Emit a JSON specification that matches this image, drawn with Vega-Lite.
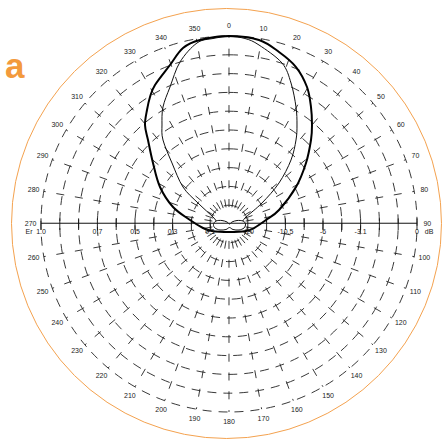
{
  "$schema": "https://vega.github.io/schema/vega-lite/v6.json",
  "autosize": "none",
  "width": 447,
  "height": 442,
  "padding": 0,
  "background": "white",
  "config": {"view": {"stroke": null}},
  "datasets": {
    "orange": [{"r": 1.1436, "cx": -0.0133, "cy": 0.0027}],
    "circles": [{"r": 0.1, "cx": 0, "cy": 0}, {"r": 0.2, "cx": 0, "cy": 0}, {"r": 0.3, "cx": 0, "cy": 0}, {"r": 0.4, "cx": 0, "cy": 0}, {"r": 0.5, "cx": 0, "cy": 0}, {"r": 0.6, "cx": 0, "cy": 0}, {"r": 0.7, "cx": 0, "cy": 0}, {"r": 0.8, "cx": 0, "cy": 0}, {"r": 0.9, "cx": 0, "cy": 0}, {"r": 1.0, "cx": 0, "cy": 0}],
    "radials": [
      {"a": 0, "x": 0, "y": 0.09, "x2": 0, "y2": 1},
      {"a": 10, "x": 0.0156, "y": 0.0886, "x2": 0.1736, "y2": 0.9848},
      {"a": 20, "x": 0.0308, "y": 0.0846, "x2": 0.342, "y2": 0.9397},
      {"a": 30, "x": 0.045, "y": 0.0779, "x2": 0.5, "y2": 0.866},
      {"a": 40, "x": 0.0579, "y": 0.0689, "x2": 0.6428, "y2": 0.766},
      {"a": 50, "x": 0.0689, "y": 0.0579, "x2": 0.766, "y2": 0.6428},
      {"a": 60, "x": 0.0779, "y": 0.045, "x2": 0.866, "y2": 0.5},
      {"a": 70, "x": 0.0846, "y": 0.0308, "x2": 0.9397, "y2": 0.342},
      {"a": 80, "x": 0.0886, "y": 0.0156, "x2": 0.9848, "y2": 0.1736},
      {"a": 100, "x": 0.0886, "y": -0.0156, "x2": 0.9848, "y2": -0.1736},
      {"a": 110, "x": 0.0846, "y": -0.0308, "x2": 0.9397, "y2": -0.342},
      {"a": 120, "x": 0.0779, "y": -0.045, "x2": 0.866, "y2": -0.5},
      {"a": 130, "x": 0.0689, "y": -0.0579, "x2": 0.766, "y2": -0.6428},
      {"a": 140, "x": 0.0579, "y": -0.0689, "x2": 0.6428, "y2": -0.766},
      {"a": 150, "x": 0.045, "y": -0.0779, "x2": 0.5, "y2": -0.866},
      {"a": 160, "x": 0.0308, "y": -0.0846, "x2": 0.342, "y2": -0.9397},
      {"a": 170, "x": 0.0156, "y": -0.0886, "x2": 0.1736, "y2": -0.9848},
      {"a": 180, "x": 0, "y": -0.09, "x2": 0, "y2": -1},
      {"a": 190, "x": -0.0156, "y": -0.0886, "x2": -0.1736, "y2": -0.9848},
      {"a": 200, "x": -0.0308, "y": -0.0846, "x2": -0.342, "y2": -0.9397},
      {"a": 210, "x": -0.045, "y": -0.0779, "x2": -0.5, "y2": -0.866},
      {"a": 220, "x": -0.0579, "y": -0.0689, "x2": -0.6428, "y2": -0.766},
      {"a": 230, "x": -0.0689, "y": -0.0579, "x2": -0.766, "y2": -0.6428},
      {"a": 240, "x": -0.0779, "y": -0.045, "x2": -0.866, "y2": -0.5},
      {"a": 250, "x": -0.0846, "y": -0.0308, "x2": -0.9397, "y2": -0.342},
      {"a": 260, "x": -0.0886, "y": -0.0156, "x2": -0.9848, "y2": -0.1736},
      {"a": 280, "x": -0.0886, "y": 0.0156, "x2": -0.9848, "y2": 0.1736},
      {"a": 290, "x": -0.0846, "y": 0.0308, "x2": -0.9397, "y2": 0.342},
      {"a": 300, "x": -0.0779, "y": 0.045, "x2": -0.866, "y2": 0.5},
      {"a": 310, "x": -0.0689, "y": 0.0579, "x2": -0.766, "y2": 0.6428},
      {"a": 320, "x": -0.0579, "y": 0.0689, "x2": -0.6428, "y2": 0.766},
      {"a": 330, "x": -0.045, "y": 0.0779, "x2": -0.5, "y2": 0.866},
      {"a": 340, "x": -0.0308, "y": 0.0846, "x2": -0.342, "y2": 0.9397},
      {"a": 350, "x": -0.0156, "y": 0.0886, "x2": -0.1736, "y2": 0.9848}
    ],
    "anglelabels": [
      {"t": "0", "x": 0, "y": 1.055}, {"t": "10", "x": 0.1832, "y": 1.039}, {"t": "20", "x": 0.3608, "y": 0.9914},
      {"t": "30", "x": 0.5275, "y": 0.9137}, {"t": "40", "x": 0.6781, "y": 0.8082}, {"t": "50", "x": 0.8082, "y": 0.6781},
      {"t": "60", "x": 0.9137, "y": 0.5275}, {"t": "70", "x": 0.9914, "y": 0.3608}, {"t": "80", "x": 1.039, "y": 0.1832},
      {"t": "90", "x": 1.055, "y": 0}, {"t": "100", "x": 1.039, "y": -0.1832}, {"t": "110", "x": 0.9914, "y": -0.3608},
      {"t": "120", "x": 0.9137, "y": -0.5275}, {"t": "130", "x": 0.8082, "y": -0.6781}, {"t": "140", "x": 0.6781, "y": -0.8082},
      {"t": "150", "x": 0.5275, "y": -0.9137}, {"t": "160", "x": 0.3608, "y": -0.9914}, {"t": "170", "x": 0.1832, "y": -1.039},
      {"t": "180", "x": 0, "y": -1.055}, {"t": "190", "x": -0.1832, "y": -1.039}, {"t": "200", "x": -0.3608, "y": -0.9914},
      {"t": "210", "x": -0.5275, "y": -0.9137}, {"t": "220", "x": -0.6781, "y": -0.8082}, {"t": "230", "x": -0.8082, "y": -0.6781},
      {"t": "240", "x": -0.9137, "y": -0.5275}, {"t": "250", "x": -0.9914, "y": -0.3608}, {"t": "260", "x": -1.039, "y": -0.1832},
      {"t": "270", "x": -1.055, "y": 0}, {"t": "280", "x": -1.039, "y": 0.1832}, {"t": "290", "x": -0.9914, "y": 0.3608},
      {"t": "300", "x": -0.9137, "y": 0.5275}, {"t": "310", "x": -0.8082, "y": 0.6781}, {"t": "320", "x": -0.6781, "y": 0.8082},
      {"t": "330", "x": -0.5275, "y": 0.9137}, {"t": "340", "x": -0.3608, "y": 0.9914}, {"t": "350", "x": -0.1832, "y": 1.039}
    ],
    "axislabels": [
      {"t": "Er", "x": -1.064, "y": -0.0426}, {"t": "1.0", "x": -1.0, "y": -0.0426}, {"t": "0.7", "x": -0.7, "y": -0.0426}, {"t": "0.5", "x": -0.5, "y": -0.0426},
      {"t": "0.3", "x": -0.3, "y": -0.0426}, {"t": "0.1", "x": -0.1, "y": -0.0426}, {"t": "-20", "x": 0.106, "y": -0.0426}, {"t": "-10.5", "x": 0.3, "y": -0.0426},
      {"t": "-6", "x": 0.5, "y": -0.0426}, {"t": "-3.1", "x": 0.7, "y": -0.0426}, {"t": "0", "x": 1.0, "y": -0.0426}, {"t": "dB", "x": 1.064, "y": -0.0426}
    ],
    "ticks": [
      {"x": -1.0, "y": -0.032, "y2": 0.03}, {"x": -0.9, "y": -0.032, "y2": 0.03}, {"x": -0.8, "y": -0.032, "y2": 0.03}, {"x": -0.7, "y": -0.032, "y2": 0.03}, {"x": -0.6, "y": -0.032, "y2": 0.03},
      {"x": -0.5, "y": -0.032, "y2": 0.03}, {"x": -0.4, "y": -0.032, "y2": 0.03}, {"x": -0.3, "y": -0.032, "y2": 0.03}, {"x": -0.2, "y": -0.032, "y2": 0.03}, {"x": -0.1, "y": -0.032, "y2": 0.03},
      {"x": 0.1, "y": -0.032, "y2": 0.03}, {"x": 0.2, "y": -0.032, "y2": 0.03}, {"x": 0.3, "y": -0.032, "y2": 0.03}, {"x": 0.4, "y": -0.032, "y2": 0.03}, {"x": 0.5, "y": -0.032, "y2": 0.03},
      {"x": 0.6, "y": -0.032, "y2": 0.03}, {"x": 0.7, "y": -0.032, "y2": 0.03}, {"x": 0.8, "y": -0.032, "y2": 0.03}, {"x": 0.9, "y": -0.032, "y2": 0.03}, {"x": 1.0, "y": -0.032, "y2": 0.03}
    ],
    "thick": [
      {"i": 1, "x": 0, "y": 1.0}, {"i": 2, "x": 0.1596, "y": 0.9787}, {"i": 3, "x": 0.266, "y": 0.9149},
      {"i": 4, "x": 0.3564, "y": 0.8351}, {"i": 5, "x": 0.4149, "y": 0.7287}, {"i": 6, "x": 0.4362, "y": 0.6223},
      {"i": 7, "x": 0.4415, "y": 0.5266}, {"i": 8, "x": 0.4362, "y": 0.4468}, {"i": 9, "x": 0.4096, "y": 0.3245},
      {"i": 10, "x": 0.3564, "y": 0.1968}, {"i": 11, "x": 0.266, "y": 0.0745}, {"i": 12, "x": 0.1968, "y": 0.0213},
      {"i": 13, "x": 0.133, "y": -0.0213}, {"i": 14, "x": 0.0904, "y": -0.0372}, {"i": 15, "x": 0, "y": -0.0426},
      {"i": 16, "x": -0.0904, "y": -0.0372}, {"i": 17, "x": -0.1383, "y": -0.0213}, {"i": 18, "x": -0.2074, "y": 0.0213},
      {"i": 19, "x": -0.2979, "y": 0.0904}, {"i": 20, "x": -0.367, "y": 0.1968}, {"i": 21, "x": -0.4043, "y": 0.3245},
      {"i": 22, "x": -0.4309, "y": 0.4468}, {"i": 23, "x": -0.4468, "y": 0.5266}, {"i": 24, "x": -0.4362, "y": 0.6064},
      {"i": 25, "x": -0.4202, "y": 0.6755}, {"i": 26, "x": -0.3936, "y": 0.7394}, {"i": 27, "x": -0.3138, "y": 0.8457},
      {"i": 28, "x": -0.2447, "y": 0.9362}, {"i": 29, "x": -0.1543, "y": 0.9787}
    ],
    "thin": [
      {"i": 1, "x": -0.0691, "y": 0.016}, {"i": 2, "x": -0.0851, "y": 0.0372}, {"i": 3, "x": -0.1649, "y": 0.1117},
      {"i": 4, "x": -0.2447, "y": 0.1968}, {"i": 5, "x": -0.3032, "y": 0.3245}, {"i": 6, "x": -0.3511, "y": 0.4468},
      {"i": 7, "x": -0.3564, "y": 0.5266}, {"i": 8, "x": -0.3511, "y": 0.6223}, {"i": 9, "x": -0.3138, "y": 0.7287},
      {"i": 10, "x": -0.2606, "y": 0.8617}, {"i": 11, "x": -0.1702, "y": 0.9628}, {"i": 12, "x": -0.0851, "y": 0.9867},
      {"i": 13, "x": 0, "y": 0.997}, {"i": 14, "x": 0.0851, "y": 0.9867}, {"i": 15, "x": 0.1596, "y": 0.9521},
      {"i": 16, "x": 0.2819, "y": 0.8564}, {"i": 17, "x": 0.3298, "y": 0.75}, {"i": 18, "x": 0.3564, "y": 0.6223},
      {"i": 19, "x": 0.3617, "y": 0.5266}, {"i": 20, "x": 0.3564, "y": 0.4468}, {"i": 21, "x": 0.3298, "y": 0.3404},
      {"i": 22, "x": 0.266, "y": 0.2181}, {"i": 23, "x": 0.1755, "y": 0.1117}, {"i": 24, "x": 0.0904, "y": 0.0372},
      {"i": 25, "x": 0.0745, "y": 0.016}
    ],
    "blob": [
      {"i": 1, "x": -0.0691, "y": 0.016}, {"i": 2, "x": -0.0372, "y": 0.0186}, {"i": 3, "x": -0.0106, "y": 0.0106},
      {"i": 4, "x": 0.0027, "y": 0}, {"i": 5, "x": 0.016, "y": 0.0106}, {"i": 6, "x": 0.0426, "y": 0.0186},
      {"i": 7, "x": 0.0745, "y": 0.016}, {"i": 8, "x": 0.0878, "y": 0}, {"i": 9, "x": 0.0798, "y": -0.0213},
      {"i": 10, "x": 0.0532, "y": -0.0319}, {"i": 11, "x": 0.0213, "y": -0.0293}, {"i": 12, "x": 0.0027, "y": -0.0186},
      {"i": 13, "x": -0.016, "y": -0.0293}, {"i": 14, "x": -0.0479, "y": -0.0319}, {"i": 15, "x": -0.0745, "y": -0.0213},
      {"i": 16, "x": -0.0824, "y": -0.0027}
    ],
    "axisline": [{"x": -1.0, "x2": 1.0, "y": 0.004}],
    "panel": [{"t": "a", "x": -1.191, "y": 0.777}]
  },
  "layer": [
    {
      "data": {"name": "orange"},
      "mark": {"type": "arc", "theta": 0, "theta2": 6.2832, "filled": false, "stroke": "#F4A24F", "strokeWidth": 1},
      "encoding": {
        "x": {"field": "cx", "type": "quantitative", "scale": {"domain": [-1.2181, 1.1596], "nice": false, "zero": false}, "axis": null},
        "y": {"field": "cy", "type": "quantitative", "scale": {"domain": [-1.1596, 1.1915], "nice": false, "zero": false}, "axis": null},
        "radius": {"field": "r", "type": "quantitative", "stack": null, "scale": {"type": "linear", "domain": [0, 1], "range": [0, 188], "zero": true}, "legend": null}
      }
    },
    {
      "data": {"name": "circles"},
      "mark": {"type": "arc", "theta": 0, "theta2": 6.2832, "filled": false, "stroke": "#222", "strokeWidth": 0.9, "strokeDash": [9, 7]},
      "encoding": {
        "x": {"field": "cx", "type": "quantitative"},
        "y": {"field": "cy", "type": "quantitative"},
        "radius": {"field": "r", "type": "quantitative", "stack": null, "legend": null}
      }
    },
    {
      "data": {"name": "radials"},
      "mark": {"type": "rule", "stroke": "#222", "strokeWidth": 0.9, "strokeDash": [8, 10.8]},
      "encoding": {
        "x": {"field": "x", "type": "quantitative"}, "y": {"field": "y", "type": "quantitative"},
        "x2": {"field": "x2"}, "y2": {"field": "y2"}
      }
    },
    {
      "data": {"name": "axisline"},
      "mark": {"type": "rule", "stroke": "#111", "strokeWidth": 1},
      "encoding": {"x": {"field": "x", "type": "quantitative"}, "x2": {"field": "x2"}, "y": {"field": "y", "type": "quantitative"}}
    },
    {
      "data": {"name": "ticks"},
      "mark": {"type": "rule", "stroke": "#111", "strokeWidth": 0.9},
      "encoding": {"x": {"field": "x", "type": "quantitative"}, "y": {"field": "y", "type": "quantitative"}, "y2": {"field": "y2"}}
    },
    {
      "data": {"name": "thin"},
      "mark": {"type": "line", "stroke": "#111", "strokeWidth": 1, "interpolate": "cardinal"},
      "encoding": {"x": {"field": "x", "type": "quantitative"}, "y": {"field": "y", "type": "quantitative"}, "order": {"field": "i"}}
    },
    {
      "data": {"name": "blob"},
      "mark": {"type": "line", "stroke": "#111", "strokeWidth": 1, "interpolate": "cardinal-closed"},
      "encoding": {"x": {"field": "x", "type": "quantitative"}, "y": {"field": "y", "type": "quantitative"}, "order": {"field": "i"}}
    },
    {
      "data": {"name": "thick"},
      "mark": {"type": "line", "stroke": "#000", "strokeWidth": 2, "interpolate": "cardinal-closed"},
      "encoding": {"x": {"field": "x", "type": "quantitative"}, "y": {"field": "y", "type": "quantitative"}, "order": {"field": "i"}}
    },
    {
      "data": {"name": "anglelabels"},
      "mark": {"type": "text", "font": "Liberation Sans", "fontSize": 7, "fill": "#222", "align": "center", "baseline": "middle"},
      "encoding": {"x": {"field": "x", "type": "quantitative"}, "y": {"field": "y", "type": "quantitative"}, "text": {"field": "t"}}
    },
    {
      "data": {"name": "axislabels"},
      "mark": {"type": "text", "font": "Liberation Sans", "fontSize": 7, "fill": "#222", "align": "center", "baseline": "middle"},
      "encoding": {"x": {"field": "x", "type": "quantitative"}, "y": {"field": "y", "type": "quantitative"}, "text": {"field": "t"}}
    },
    {
      "data": {"name": "panel"},
      "mark": {"type": "text", "font": "Liberation Sans", "fontSize": 35, "fontWeight": "bold", "fill": "#F39A3C", "align": "left", "baseline": "alphabetic"},
      "encoding": {"x": {"field": "x", "type": "quantitative"}, "y": {"field": "y", "type": "quantitative"}, "text": {"field": "t"}}
    }
  ]
}
